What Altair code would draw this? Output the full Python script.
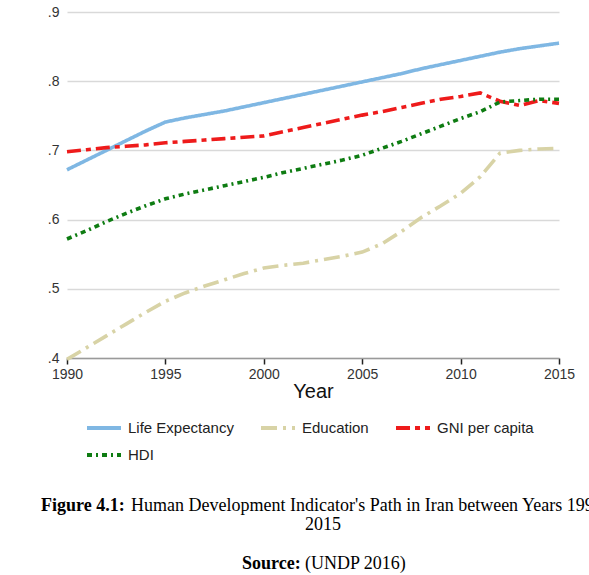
import altair as alt
import pandas as pd

years = list(range(1990, 2016))

life_expectancy = [0.672, 0.686, 0.700, 0.714, 0.728, 0.741, 0.747, 0.752, 0.757, 0.763,
                   0.769, 0.775, 0.781, 0.787, 0.793, 0.799, 0.805, 0.811, 0.818, 0.824,
                   0.830, 0.836, 0.842, 0.847, 0.851, 0.855]
education = [0.398, 0.415, 0.432, 0.449, 0.466, 0.482, 0.494, 0.504, 0.513, 0.522,
             0.530, 0.534, 0.537, 0.542, 0.547, 0.553, 0.565, 0.583, 0.603, 0.620,
             0.638, 0.662, 0.696, 0.700, 0.702, 0.703]
gni_per_capita = [0.698, 0.701, 0.704, 0.706, 0.708, 0.711, 0.713, 0.715, 0.717, 0.719,
                  0.721, 0.727, 0.733, 0.739, 0.745, 0.751, 0.756, 0.762, 0.768, 0.774,
                  0.778, 0.783, 0.771, 0.765, 0.772, 0.768]
hdi = [0.572, 0.584, 0.597, 0.609, 0.620, 0.630, 0.637, 0.643, 0.649, 0.655,
       0.661, 0.668, 0.674, 0.680, 0.686, 0.693, 0.703, 0.713, 0.724, 0.735,
       0.746, 0.756, 0.770, 0.772, 0.774, 0.774]

series_names = ["Life Expectancy", "Education", "GNI per capita", "HDI"]
series_colors = ["#7fb7e3", "#d8d3a6", "#ee1b1b", "#0e7c12"]
series_dashes = [[1, 0], [16, 6, 3, 6], [14, 5, 5, 5], [5, 4, 2, 4]]
x_ticks = [1990, 1995, 2000, 2005, 2010, 2015]

rows = []
for name, vals in zip(series_names, [life_expectancy, education, gni_per_capita, hdi]):
    for yr, v in zip(years, vals):
        rows.append({"Year": yr, "Series": name, "Value": v})
df = pd.DataFrame(rows)

legend_opts = dict(title=None, orient="none", direction="horizontal",
                   legendX=18, legendY=397, columns=3,
                   columnPadding=19, rowPadding=-3, symbolType="stroke",
                   symbolSize=1156, symbolStrokeWidth=4, labelFontSize=15,
                   labelColor="#222", labelOffset=5, labelFont="Liberation Sans")

lines = alt.Chart(df).mark_line(strokeWidth=3.6).encode(
    x=alt.X("Year:Q",
            scale=alt.Scale(domain=[1990, 2015], nice=False, zero=False),
            axis=alt.Axis(values=x_ticks, format="d", grid=False, title="Year",
                          titleFontSize=20, titleFontWeight="normal",
                          titleColor="#111", titlePadding=0,
                          labelFontSize=14, labelColor="#333", labelPadding=3,
                          labelFlush=False,
                          tickColor="#222", tickSize=6, tickWidth=1.5,
                          domainColor="#9a9a9a", domainWidth=1.5)),
    y=alt.Y("Value:Q",
            scale=alt.Scale(domain=[0.4, 0.9], nice=False, zero=False),
            axis=alt.Axis(values=[0.4, 0.5, 0.6, 0.7, 0.8, 0.9], title=None,
                          labelExpr="replace(format(datum.value, '.1f'), '0.', '.')",
                          labelFontSize=14, labelColor="#333", labelPadding=8,
                          ticks=False, domain=False, gridColor="#d9d9d9",
                          gridWidth=1.5)),
    color=alt.Color("Series:N", sort=series_names,
                    scale=alt.Scale(domain=series_names, range=series_colors),
                    legend=alt.Legend(**legend_opts)),
    strokeDash=alt.StrokeDash("Series:N", sort=series_names,
                              scale=alt.Scale(domain=series_names, range=series_dashes),
                              legend=alt.Legend(**legend_opts)),
    order=alt.Order("Year:Q"),
)

# caption beneath the chart: bold lead-ins, plain text, centred second line
cap_bold = alt.Chart(pd.DataFrame({"t": ["Figure 4.1:", "Source:"],
                                   "x": [-26, 175], "y": [494, 552]})).mark_text(
    font="Liberation Serif", fontSize=18, fontWeight="bold", align="left",
    baseline="middle", color="#000").encode(
    x=alt.X("x:Q", scale=None), y=alt.Y("y:Q", scale=None), text="t:N")

cap_plain = alt.Chart(pd.DataFrame({
    "t": ["Human Development Indicator's Path in Iran between Years 1990-", "(UNDP 2016)"],
    "x": [64, 238], "y": [494, 552]})).mark_text(
    font="Liberation Serif", fontSize=18, baseline="middle", align="left",
    color="#000").encode(
    x=alt.X("x:Q", scale=None), y=alt.Y("y:Q", scale=None), text="t:N")

cap_year = alt.Chart(pd.DataFrame({"t": ["2015"], "x": [256], "y": [513]})).mark_text(
    font="Liberation Serif", fontSize=18, baseline="middle", align="center",
    color="#000").encode(
    x=alt.X("x:Q", scale=None), y=alt.Y("y:Q", scale=None), text="t:N")

chart = alt.layer(lines, cap_bold, cap_plain, cap_year).properties(
    width=492, height=346,
    autosize=alt.AutoSizeParams(type="none"),
    padding={"left": 67, "top": 12, "right": 30, "bottom": 217},
).configure(font="Liberation Sans").configure_view(stroke=None)

chart.save("out.html", embed_options={"renderer": "svg", "actions": False})
